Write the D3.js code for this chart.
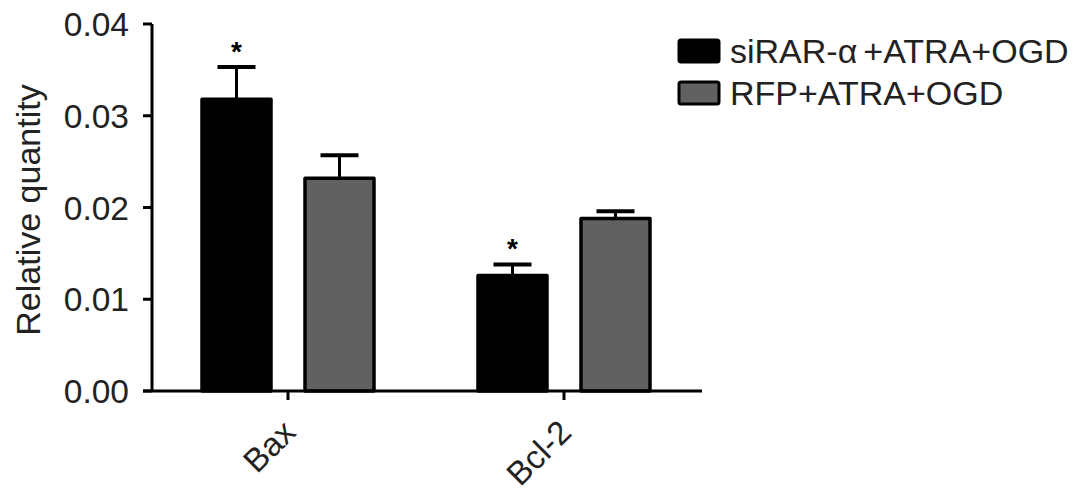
<!DOCTYPE html>
<html><head><meta charset="utf-8">
<script src="https://cdn.jsdelivr.net/npm/d3@7"></script>
<style>body{margin:0;background:#fff}text{font-family:"Liberation Sans",Arial,sans-serif}</style>
</head><body><svg id="c" width="1087" height="494"></svg>
<script>
const categories = ["Bax", "Bcl-2"];
const seriesNames = ["siRAR-α+ATRA+OGD", "RFP+ATRA+OGD"];
const seriesColors = ["#000000", "#616161"];
const meanSiRAR = [0.0318, 0.0126];
const errSiRAR = [0.0035, 0.0012];
const meanRFP = [0.0232, 0.0188];
const errRFP = [0.0025, 0.0008];
const significant = [[true, false], [true, false]];
const yTicks = [0.00, 0.01, 0.02, 0.03, 0.04];
const yTickLabels = ["0.00", "0.01", "0.02", "0.03", "0.04"];

const svg = d3.select("#c");
const x0 = 152, x1 = 702, yTop = 24, yBot = 391;
const y = d3.scaleLinear().domain([0, 0.04]).range([yBot, yTop]);
const x = d3.scalePoint().domain(categories).range([288, 564]);
const sub = d3.scaleBand().domain([0,1]).range([-86, 86]).paddingInner(0.33);

const series = [
  {mean: meanSiRAR, err: errSiRAR},
  {mean: meanRFP, err: errRFP}
];

series.forEach((s, si) => {
  categories.forEach((c, ci) => {
    const bx = x(c) + sub(si);
    const bw = sub.bandwidth();
    const cx = bx + bw/2;
    svg.append("line").attr("x1", cx).attr("x2", cx)
      .attr("y1", y(s.mean[ci])).attr("y2", y(s.mean[ci] + s.err[ci]))
      .attr("stroke", "#000").attr("stroke-width", 3);
    svg.append("line").attr("x1", cx - 19).attr("x2", cx + 19)
      .attr("y1", y(s.mean[ci] + s.err[ci])).attr("y2", y(s.mean[ci] + s.err[ci]))
      .attr("stroke", "#000").attr("stroke-width", 4);
    svg.append("rect").attr("x", bx).attr("y", y(s.mean[ci]))
      .attr("width", bw).attr("height", yBot - y(s.mean[ci]))
      .attr("fill", seriesColors[si]).attr("stroke", "#000").attr("stroke-width", 3.5)
      .attr("stroke-linejoin", "round");
    if (significant[ci][si]) {
      svg.append("text").attr("x", cx).attr("y", y(s.mean[ci] + s.err[ci]) - 6)
        .attr("text-anchor", "middle").attr("font-size", 28).attr("font-weight", "bold")
        .text("*");
    }
  });
});

svg.append("line").attr("x1", x0).attr("x2", x0).attr("y1", yTop).attr("y2", yBot)
  .attr("stroke", "#000").attr("stroke-width", 3);
yTicks.forEach((t, i) => {
  svg.append("line").attr("x1", x0 - 9).attr("x2", x0).attr("y1", y(t)).attr("y2", y(t))
    .attr("stroke", "#000").attr("stroke-width", 3);
  svg.append("text").attr("x", 129).attr("y", y(t)).attr("dy", "0.36em")
    .attr("text-anchor", "end").attr("font-size", 33.5).attr("fill", "#222").text(yTickLabels[i]);
});
svg.append("line").attr("x1", x0 - 9).attr("x2", x1).attr("y1", yBot).attr("y2", yBot)
  .attr("stroke", "#000").attr("stroke-width", 3);
categories.forEach(c => {
  svg.append("line").attr("x1", x(c)).attr("x2", x(c)).attr("y1", yBot).attr("y2", yBot + 9)
    .attr("stroke", "#000").attr("stroke-width", 3);
  svg.append("text").attr("transform", `translate(${x(c)-7},${yBot+27}) rotate(-45)`)
    .attr("text-anchor", "end").attr("dy", "0.7em").attr("font-size", 33).attr("fill", "#222").text(c);
});
svg.append("text").attr("transform", `translate(40,${(83+337)/2}) rotate(-90)`)
  .attr("text-anchor", "middle").attr("font-size", 34).attr("fill", "#222").text("Relative quantity");

seriesNames.forEach((n, i) => {
  const ly = 40 + i * 42;
  svg.append("rect").attr("x", 679).attr("y", ly).attr("width", 40).attr("height", 22)
    .attr("rx", 2).attr("fill", seriesColors[i]).attr("stroke", "#000").attr("stroke-width", 3);
  const t = svg.append("text").attr("x", 730).attr("y", ly + 11).attr("dy", "0.36em")
    .attr("font-size", 34).attr("fill", "#222");
  const parts = n.split("α");
  if (parts.length > 1) {
    t.append("tspan").text(parts[0] + "α");
    t.append("tspan").attr("dx", 6).text(parts[1]);
  } else {
    t.text(n);
  }
});
</script></body></html>
